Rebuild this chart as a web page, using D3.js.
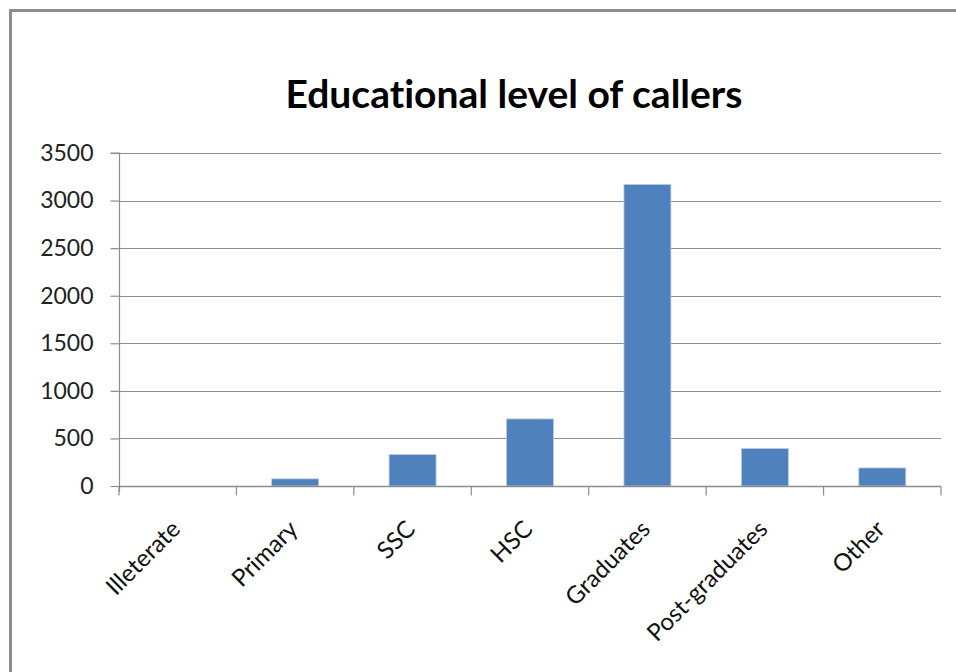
<!DOCTYPE html>
<html><head><meta charset="utf-8">
<script src="https://cdn.jsdelivr.net/npm/d3@7"></script>
<style>html,body{margin:0;padding:0;background:#fff;overflow:hidden} text{font-variant-ligatures:none}</style>
</head><body>
<svg id="chart" width="956" height="672"></svg>
<script>
const title = "Educational level of callers";
const categories = ["Illeterate","Primary","SSC","HSC","Graduates","Post-graduates","Other"];
const values = [0, 75, 330, 705, 3170, 395, 190];
const yTicks = [0, 500, 1000, 1500, 2000, 2500, 3000, 3500];

const svg = d3.select("#chart");
const font = "Lato, 'Open Sans', sans-serif";

// outer frame
svg.append("rect").attr("x", 10.5).attr("y", 10.5).attr("width", 960).attr("height", 700)
  .attr("fill", "#fff").attr("stroke", "#8c8c8c").attr("stroke-width", 3);

const pLeft = 119, pRight = 941, pTop = 153, pBottom = 486;
const x = d3.scaleBand().domain(categories).range([pLeft, pRight]).padding(0);
const y = d3.scaleLinear().domain([0, 3500]).range([pBottom, pTop]);

// gridlines
svg.append("g").selectAll("line").data(yTicks).join("line")
  .attr("x1", pLeft).attr("x2", pRight)
  .attr("y1", d => Math.round(y(d)) + 0.5).attr("y2", d => Math.round(y(d)) + 0.5)
  .attr("stroke", "#8c8c8c").attr("stroke-width", 1.2);

// bars
const bw = x.bandwidth();
svg.append("g").selectAll("rect").data(categories).join("rect")
  .attr("x", d => x(d) + bw * 0.3)
  .attr("width", bw * 0.4)
  .attr("y", (d, i) => y(values[i]))
  .attr("height", (d, i) => pBottom - y(values[i]))
  .attr("fill", "#4f81bd")
  .attr("stroke", "#b9cde5").attr("stroke-width", 0.8);

// y axis
const yAxis = d3.axisLeft(y).tickValues(yTicks).tickSize(9).tickPadding(17).tickFormat(d3.format("d"));
const gy = svg.append("g").attr("transform", `translate(${pLeft + 0.5},0)`).call(yAxis);
gy.select(".domain").attr("stroke", "#8c8c8c").attr("stroke-width", 1.2).attr("d", `M-9,${pTop}H0V${pBottom + 6}`);
gy.selectAll(".tick line").attr("stroke", "#8c8c8c").attr("stroke-width", 1.2);
gy.selectAll(".tick text").attr("font-family", font).attr("font-size", 23).attr("fill", "#222");

// x axis
const xAxis = d3.axisBottom(x).tickSize(0).tickFormat(d => d);
const gx = svg.append("g").attr("transform", `translate(0,${pBottom + 0.5})`).call(xAxis);
gx.select(".domain").attr("stroke", "#8c8c8c").attr("stroke-width", 1.5).attr("d", `M${pLeft},0H${pRight}`);
const bounds = categories.map(c => x(c)).concat([pRight]);
gx.append("g").selectAll("line").data(bounds).join("line")
  .attr("x1", d => d).attr("x2", d => d).attr("y1", 0).attr("y2", 9)
  .attr("stroke", "#8c8c8c").attr("stroke-width", 1.2);
gx.selectAll(".tick text")
  .attr("font-family", font).attr("font-size", 24).attr("fill", "#111")
  .attr("text-anchor", "end")
  .attr("dy", "0")
  .attr("transform", "translate(2,42) rotate(-45)");

// title
svg.append("text").attr("x", 514).attr("y", 108).attr("text-anchor", "middle")
  .attr("font-family", font).attr("font-weight", "bold").attr("font-size", 39).attr("fill", "#000")
  .text(title);
</script>
</body></html>
